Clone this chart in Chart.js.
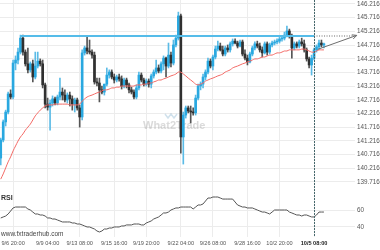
<!DOCTYPE html>
<html lang="en">
<head>
<meta charset="UTF-8">
<title>USD/JPY 4H</title>
<script src="https://cdn.jsdelivr.net/npm/chart.js@4.4.1/dist/chart.umd.min.js"></script>
<style>
  html, body { margin: 0; padding: 0; background: #fff; }
  #wrap { position: relative; width: 380px; height: 250px; overflow: hidden; }
  #priceBox { position: absolute; left: 0; top: 0; width: 380px; height: 192px; }
  #rsiBox { position: absolute; left: 0; top: 192px; width: 380px; height: 58px; }
</style>
</head>
<body>
<div id="wrap">
  <div id="priceBox"><canvas id="priceChart"></canvas></div>
  <div id="rsiBox"><canvas id="rsiChart"></canvas></div>
</div>
<script>
// 4h candles
const opens = [
  140.59,141.25,141.91,142.27,142.93,142.82,144.06,144.17,144.46,144.97,
  144.46,144.03,143.81,144.03,143.55,143.95,144.13,144.03,143.26,142.56,
  142.45,142.60,142.75,142.60,142.82,143.00,142.89,142.71,142.89,142.75,
  142.56,142.71,142.42,142.09,144.43,144.61,144.50,144.46,144.35,143.37,
  143.33,143.08,143.00,143.29,143.62,143.73,143.55,143.44,143.55,143.48,
  143.22,143.44,143.26,143.08,143.00,142.82,143.15,143.62,143.44,143.29,
  143.40,143.29,143.59,143.73,143.88,143.77,144.03,144.24,143.95,144.35,
  144.06,144.72,144.97,145.78,141.36,142.16,142.42,142.31,142.27,142.24,
  142.78,143.22,143.29,143.55,143.73,144.13,143.95,144.28,144.57,144.68,
  144.54,144.39,144.61,144.54,144.76,144.86,144.79,144.68,144.83,144.39,
  144.24,144.10,144.39,144.61,144.76,144.68,144.54,144.43,144.76,144.46,
  144.72,144.79,144.83,144.86,144.94,144.97,145.08,145.23,145.05,144.61,
  144.76,144.68,144.83,144.76,144.54,144.21,143.99,144.24,144.54,144.65,
  144.79,144.72
];
const highs = [
  141.32,141.98,142.34,143.00,143.08,144.17,144.32,144.61,145.08,145.08,
  144.54,144.61,144.10,144.17,144.46,144.46,144.21,144.17,143.33,142.78,
  142.71,142.86,142.82,142.89,143.51,143.15,143.08,142.97,143.00,142.86,
  142.78,142.78,142.53,144.54,144.68,145.05,144.90,144.54,144.46,143.51,
  143.51,143.22,143.29,143.88,143.81,143.81,143.66,143.62,143.66,143.59,
  143.51,143.51,143.33,143.18,143.08,143.26,143.73,143.70,143.51,143.48,
  143.48,143.66,143.81,144.17,143.99,144.10,144.32,144.28,144.79,144.46,
  144.90,145.08,145.92,145.85,142.27,142.49,142.49,142.49,142.42,142.89,
  143.29,143.37,143.66,143.81,144.24,144.21,144.35,144.68,144.86,144.79,
  144.68,144.68,144.72,144.83,144.94,144.94,144.86,144.90,144.90,144.54,
  144.35,144.46,144.68,144.83,144.86,144.79,144.65,144.83,144.83,144.79,
  144.86,144.90,144.94,145.01,145.05,145.19,145.41,145.30,145.12,144.83,
  144.83,144.90,144.97,144.90,144.61,144.28,144.35,144.61,144.72,144.90,
  144.90,144.79
];
const lows = [
  140.34,141.18,141.76,142.20,142.75,142.75,143.81,144.03,144.39,144.35,
  143.95,143.70,143.73,143.37,143.48,143.88,143.95,143.15,142.42,142.34,
  141.61,142.49,142.53,142.53,142.71,142.71,142.64,142.60,142.49,142.34,
  142.27,142.34,141.72,141.98,144.35,144.39,144.39,144.24,143.29,143.22,
  142.64,142.93,142.89,143.22,143.51,143.48,143.33,143.37,143.40,143.11,
  143.15,143.15,142.97,142.93,142.75,142.75,143.08,143.37,143.22,143.22,
  143.18,143.15,143.51,143.66,143.70,143.70,143.81,143.55,143.88,143.92,
  143.99,144.65,144.90,140.77,140.37,142.05,142.24,141.87,142.16,142.16,
  142.71,143.08,143.15,143.44,143.66,143.88,143.81,144.21,144.50,144.50,
  144.32,144.32,144.46,144.46,144.68,144.76,144.61,144.65,144.32,144.17,
  143.99,144.06,144.32,144.54,144.61,144.46,144.28,144.39,144.35,144.39,
  144.65,144.72,144.76,144.79,144.86,144.90,145.01,144.97,144.24,144.54,
  144.61,144.61,144.68,144.46,144.13,143.88,143.62,144.17,144.46,144.57,
  144.65,144.61
];
const closes = [
  141.25,141.91,142.27,142.93,142.82,144.06,144.17,144.46,144.97,144.46,
  144.03,143.81,144.03,143.55,143.95,144.13,144.03,143.26,142.56,142.45,
  142.60,142.75,142.60,142.82,143.00,142.89,142.71,142.89,142.75,142.56,
  142.71,142.42,142.09,144.43,144.61,144.50,144.46,144.35,143.37,143.33,
  143.08,143.00,143.29,143.62,143.73,143.55,143.44,143.55,143.48,143.22,
  143.44,143.26,143.08,143.00,142.82,143.15,143.62,143.44,143.29,143.40,
  143.29,143.59,143.73,143.88,143.77,144.03,144.24,143.95,144.35,144.06,
  144.72,144.97,145.78,141.36,142.16,142.42,142.31,142.27,142.24,142.78,
  143.22,143.29,143.55,143.73,144.13,143.95,144.28,144.57,144.68,144.54,
  144.39,144.61,144.54,144.76,144.86,144.79,144.68,144.83,144.39,144.24,
  144.10,144.39,144.61,144.76,144.68,144.54,144.43,144.76,144.46,144.72,
  144.79,144.83,144.86,144.94,144.97,145.08,145.23,145.05,144.61,144.76,
  144.68,144.83,144.76,144.54,144.21,143.99,144.24,144.54,144.65,144.79,
  144.72,144.76
];
// moving average (red)
const maLine = [
  139.82,140.01,140.23,140.45,140.63,140.85,141.03,141.21,141.36,141.47,
  141.61,141.72,141.83,141.98,142.13,142.24,142.34,142.42,142.49,142.53,
  142.53,142.53,142.56,142.56,142.56,142.56,142.56,142.56,142.53,142.53,
  142.53,142.53,142.56,142.67,142.75,142.82,142.86,142.89,142.93,142.97,
  143.00,143.04,143.08,143.08,143.11,143.15,143.15,143.18,143.18,143.22,
  143.22,143.22,143.22,143.22,143.22,143.26,143.26,143.26,143.29,143.29,
  143.33,143.33,143.37,143.40,143.44,143.44,143.48,143.51,143.55,143.59,
  143.62,143.66,143.73,143.73,143.66,143.59,143.51,143.44,143.37,143.29,
  143.26,143.29,143.33,143.40,143.44,143.48,143.51,143.55,143.59,143.62,
  143.66,143.73,143.77,143.81,143.88,143.92,143.95,143.99,144.03,144.06,
  144.10,144.13,144.17,144.21,144.21,144.24,144.28,144.28,144.32,144.35,
  144.35,144.39,144.43,144.43,144.46,144.50,144.50,144.54,144.54,144.54,
  144.54,144.54,144.57,144.57,144.54,144.50,144.46,144.46,144.50,144.54,
  144.54,144.54
];
const rsiLine = [
  50.6,51.8,52.9,55.3,58.8,62.4,63.5,63.5,63.5,63.5,
  63.5,61.2,60.0,57.6,55.3,55.3,54.1,54.1,52.9,50.6,
  50.6,49.4,49.4,48.2,47.1,45.9,45.9,45.9,45.9,44.7,
  44.7,43.5,43.5,42.4,41.2,40.0,40.0,38.8,37.6,35.3,
  34.1,35.3,37.6,37.6,38.8,38.8,40.0,40.0,40.0,41.2,
  41.2,42.4,42.4,42.4,43.5,43.5,43.5,42.4,42.4,44.7,
  45.9,47.1,49.4,50.6,51.8,54.1,56.5,56.5,57.6,60.0,
  61.2,62.4,62.4,63.5,63.5,63.5,63.5,63.5,61.2,63.5,
  65.9,65.9,67.1,70.6,74.1,74.1,75.3,75.3,75.3,74.1,
  72.9,72.9,72.9,72.9,72.9,69.4,65.9,64.7,63.5,63.5,
  62.4,62.4,62.4,61.2,60.0,58.8,57.6,57.6,56.5,55.3,
  57.6,60.0,60.0,60.0,60.0,60.0,60.0,57.6,56.5,55.3,
  54.1,54.1,52.9,54.1,54.1,52.9,51.8,51.8,54.1,57.6,
  57.6,57.6
];

const tickIdx = [5, 19, 32, 46, 59, 73, 86, 100, 113, 127];
const tickLabels = ['9/6 20:00','9/9 04:00','9/13 08:00','9/15 16:00','9/19 20:00',
                    '9/22 04:00','9/26 08:00','9/28 16:00','10/2 20:00','10/5 08:00'];
const priceTicks = [146.216,145.716,145.216,144.716,144.216,143.716,143.216,
                    142.716,142.216,141.716,141.216,140.716,140.216,139.716];
const rsiTicks = [40, 60];

const resistance = 145.05;          // horizontal level
const resistanceFrom = 8, cursorIdx = 127;
const projFrom = [128.5, 144.56], projTo = [144.3, 145.07];

const FONT = '"Liberation Sans", Arial, sans-serif';
const UP = '#29a8e0', DOWN = '#303030';
const X_MIN = -0.3, X_MAX = 143.6;

const idx = closes.map((c, i) => i);
const candleColor = idx.map(i => closes[i] >= opens[i] ? UP : DOWN);
const wickColor = idx.map(i => closes[i] >= opens[i] ? '#5bbbe6' : '#555555');

// no extra room for edge labels, keep plot areas flush
function noPad(s) {
  s.paddingTop = 0; s.paddingBottom = 0; s.paddingLeft = 0; s.paddingRight = 0;
}

// vertical dotted cursor line through both panels
const cursorPlugin = {
  id: 'cursor',
  afterDatasetsDraw(chart) {
    const x = Math.round(chart.scales.x.getPixelForValue(cursorIdx)) + 0.5;
    const ctx = chart.ctx;
    ctx.save();
    ctx.strokeStyle = '#46676b';
    ctx.lineWidth = 1;
    ctx.setLineDash([2, 1]);
    ctx.beginPath();
    ctx.moveTo(x, 0);
    ctx.lineTo(x, chart.chartArea.bottom);
    ctx.stroke();
    ctx.restore();
  }
};

const priceDecor = {
  id: 'priceDecor',
  beforeDatasetsDraw(chart) {
    const ctx = chart.ctx;
    ctx.save();
    ctx.font = 'bold 11px ' + FONT;
    ctx.fillStyle = 'rgba(150,150,150,0.35)';
    ctx.textBaseline = 'middle';
    ctx.fillText('What2Trade', 143, 126);
    ctx.strokeStyle = 'rgba(120,170,200,0.35)';
    ctx.lineWidth = 1.5;
    ctx.beginPath();
    ctx.moveTo(165, 114); ctx.lineTo(168, 118); ctx.lineTo(171, 114); ctx.lineTo(174, 118); ctx.lineTo(177, 114);
    ctx.stroke();
    ctx.restore();
  },
  afterDatasetsDraw(chart) {
    const xs = chart.scales.x, ys = chart.scales.y, ctx = chart.ctx;
    const x1 = xs.getPixelForValue(projFrom[0]), y1 = ys.getPixelForValue(projFrom[1]);
    const x2 = xs.getPixelForValue(projTo[0]), y2 = ys.getPixelForValue(projTo[1]);
    const a = Math.atan2(y2 - y1, x2 - x1);
    ctx.save();
    ctx.strokeStyle = '#6d6d6d';
    ctx.lineWidth = 1;
    ctx.beginPath();
    ctx.moveTo(x2 - 5 * Math.cos(a - 0.45), y2 - 5 * Math.sin(a - 0.45));
    ctx.lineTo(x2, y2);
    ctx.lineTo(x2 - 5 * Math.cos(a + 0.45), y2 - 5 * Math.sin(a + 0.45));
    ctx.stroke();
    ctx.restore();
  }
};

const rsiDecor = {
  id: 'rsiDecor',
  afterDraw(chart) {
    const ctx = chart.ctx;
    ctx.save();
    ctx.textBaseline = 'middle';
    ctx.fillStyle = '#333';
    ctx.font = 'bold 7px ' + FONT;
    ctx.fillText('RSI', 1, 6);
    ctx.fillStyle = '#444';
    ctx.font = '6.5px ' + FONT;
    ctx.fillText('www.fxtraderhub.com', 1, 42);
    ctx.restore();
  }
};

const xBase = {
  type: 'linear', min: X_MIN, max: X_MAX, offset: false,
  afterBuildTicks: s => { s.ticks = tickIdx.map(v => ({ value: v })); },
  grid: { color: '#ececec', drawTicks: false, offset: false },
  border: { display: false }
};

new Chart(document.getElementById('priceChart'), {
  type: 'bar',
  data: {
    datasets: [
      {
        type: 'line', data: [{ x: resistanceFrom, y: resistance }, { x: cursorIdx, y: resistance }],
        borderColor: '#55bce9', borderWidth: 2, pointRadius: 0, order: 0
      },
      {
        type: 'line', data: [{ x: cursorIdx, y: resistance }, { x: projTo[0], y: resistance }],
        borderColor: '#999', borderWidth: 1.5, borderDash: [1, 1.5], pointRadius: 0, clip: false, order: 0
      },
      {
        type: 'line', data: [{ x: projFrom[0], y: projFrom[1] }, { x: projTo[0], y: projTo[1] }],
        borderColor: '#6d6d6d', borderWidth: 1, pointRadius: 0, clip: false, order: 0
      },
      {
        type: 'line', data: idx.map(i => ({ x: i, y: maLine[i] })),
        borderColor: '#f36a66', borderWidth: 1, pointRadius: 0, tension: 0.3, order: 1
      },
      {
        data: idx.map(i => ({ x: i, y: [opens[i], closes[i]] })),
        backgroundColor: candleColor, barThickness: 2, minBarLength: 1, grouped: false, order: 2
      },
      {
        data: idx.map(i => ({ x: i, y: [lows[i], highs[i]] })),
        backgroundColor: wickColor, barThickness: 1, grouped: false, order: 3
      }
    ]
  },
  options: {
    responsive: true, maintainAspectRatio: false, animation: false,
    layout: { padding: 0 },
    plugins: { legend: { display: false }, tooltip: { enabled: false } },
    scales: {
      x: Object.assign({}, xBase, {
        ticks: { display: false },
        afterFit: s => { s.height = 0; noPad(s); }
      }),
      y: {
        position: 'right', min: 139.35, max: 146.362,
        afterBuildTicks: s => { s.ticks = priceTicks.map(v => ({ value: v })); },
        afterFit: s => { s.width = 25; noPad(s); },
        grid: { color: '#ececec', drawTicks: false },
        border: { display: false },
        ticks: { padding: 2, color: '#555', font: { family: FONT, size: 6.3 }, callback: v => v.toFixed(3) }
      }
    }
  },
  plugins: [priceDecor, cursorPlugin]
});

new Chart(document.getElementById('rsiChart'), {
  type: 'line',
  data: {
    datasets: [{
      data: idx.map(i => ({ x: i, y: rsiLine[i] })),
      borderColor: '#555', borderWidth: 1, pointRadius: 0
    }]
  },
  options: {
    responsive: true, maintainAspectRatio: false, animation: false,
    layout: { padding: 0 },
    plugins: { legend: { display: false }, tooltip: { enabled: false } },
    scales: {
      x: Object.assign({}, xBase, {
        afterFit: s => { s.height = 13; noPad(s); },
        ticks: {
          padding: 3, maxRotation: 0, autoSkip: false,
          color: c => c.index === tickIdx.length - 1 ? '#222' : '#555',
          font: c => ({ family: FONT, size: 5.6, weight: c.index === tickIdx.length - 1 ? 'bold' : 'normal' }),
          callback: (v, i) => tickLabels[i]
        }
      }),
      y: {
        position: 'right', min: 28.2, max: 81.2,
        afterBuildTicks: s => { s.ticks = rsiTicks.map(v => ({ value: v })); },
        afterFit: s => { s.width = 25; noPad(s); },
        grid: { color: '#ececec', drawTicks: false },
        border: { display: false },
        ticks: { padding: 2, color: '#555', font: { family: FONT, size: 6.3 } }
      }
    }
  },
  plugins: [rsiDecor, cursorPlugin]
});
</script>
</body>
</html>
